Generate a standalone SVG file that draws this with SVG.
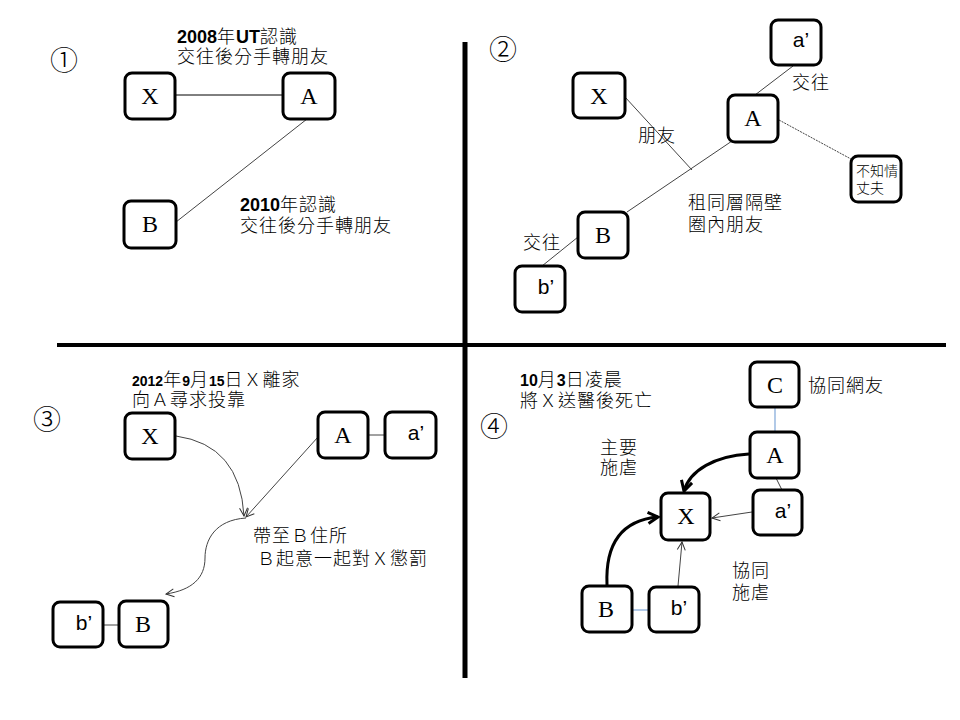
<svg xmlns="http://www.w3.org/2000/svg" width="960" height="720" viewBox="0 0 960 720">
<style>
.box{fill:#fff;stroke:#000;stroke-width:3}
.lt{font-family:"Liberation Serif",serif;font-size:24px;text-anchor:middle}
.ls{font-family:"Liberation Sans",sans-serif;font-size:21px;text-anchor:middle}
.cj{font-family:"Noto Sans CJK TC","Noto Sans CJK JP",sans-serif;font-size:18px;letter-spacing:1px;font-weight:300}
.bd{font-family:"Liberation Sans",sans-serif;font-weight:bold;letter-spacing:0}
.num{font-family:"Noto Sans CJK JP","Noto Sans CJK TC",serif;font-size:28px;text-anchor:middle;font-weight:300}
.sm{font-family:"Noto Sans CJK TC","Noto Sans CJK JP",sans-serif;font-size:14px;font-weight:300}
.ln{stroke:#444;stroke-width:1;fill:none}
.bl{stroke:#7ea6d8;stroke-width:1.2;fill:none}
.dv{stroke:#000;fill:none}
</style>
<defs>
<marker id="ah" viewBox="0 0 10 10" refX="9" refY="5" markerWidth="10" markerHeight="10" markerUnits="userSpaceOnUse" orient="auto">
<path d="M1,1 L9,5 L1,9" fill="none" stroke="#333" stroke-width="1"/>
</marker>
<marker id="ahk" viewBox="0 0 14 14" refX="12" refY="7" markerWidth="14" markerHeight="14" markerUnits="userSpaceOnUse" orient="auto">
<path d="M2,1.5 L12,7 L2,12.5" fill="none" stroke="#000" stroke-width="3" stroke-linejoin="miter"/>
</marker>
</defs>
<rect width="960" height="720" fill="#fff"/>
<g id="dividers">
<line class="dv" x1="465" y1="42" x2="465" y2="678" stroke-width="5"/>
<line class="dv" x1="57" y1="345" x2="946" y2="345" stroke-width="4"/>
</g>
<g id="connectors">
<line x1="175" y1="95" x2="283" y2="95" stroke="#000" stroke-width="1"/>
<line class="ln" x1="307" y1="119" x2="176" y2="222"/>
<line class="ln" x1="625" y1="97" x2="692" y2="170"/>
<line class="ln" x1="732" y1="141" x2="627" y2="212"/>
<line class="ln" x1="793" y1="66" x2="755" y2="95"/>
<line class="ln" x1="779" y1="120" x2="851" y2="159" stroke-dasharray="2,1"/>
<line class="ln" x1="578" y1="237" x2="542" y2="266"/>
<line class="ln" x1="368" y1="435" x2="385" y2="435"/>
<line class="ln" x1="103" y1="625" x2="119" y2="625"/>
<path class="ln" d="M176,436 Q240,445 244,516" marker-end="url(#ah)"/>
<line class="ln" x1="318" y1="437" x2="246" y2="517" marker-end="url(#ah)"/>
<path class="ln" d="M246,518 C215,520 205,540 205,558 C205,578 192,590 166,594" marker-end="url(#ah)"/>
<line class="bl" x1="775" y1="407" x2="775" y2="432"/>
<line class="ln" x1="776" y1="478" x2="782" y2="490"/>
<line class="bl" x1="632" y1="610" x2="649" y2="610"/>
<path d="M749,454 C715,456 690,470 684,491" fill="none" stroke="#000" stroke-width="3" marker-end="url(#ahk)"/>
<line class="ln" x1="752" y1="512" x2="712" y2="518" marker-end="url(#ah)"/>
<path d="M607,585 C605,540 625,520 658,517" fill="none" stroke="#000" stroke-width="3" marker-end="url(#ahk)"/>
<line class="ln" x1="678" y1="586" x2="682" y2="542" marker-end="url(#ah)"/>
</g>
<g id="q1-label"><text class="num" x="64" y="71">①</text></g>
<g id="q1-note1"><text class="cj"><tspan x="177" y="43"><tspan class="bd" font-size="18">2008</tspan>年<tspan class="bd" font-size="18">UT</tspan>認識</tspan><tspan x="177" y="63">交往後分手轉朋友</tspan></text></g>
<g id="q1-X"><rect class="box" x="125" y="73" width="50" height="46" rx="7"/><text class="lt" x="150" y="104">X</text></g>
<g id="q1-A"><rect class="box" x="283" y="73" width="52" height="46" rx="7"/><text class="lt" x="309" y="104">A</text></g>
<g id="q1-B"><rect class="box" x="124" y="201" width="52" height="47" rx="7"/><text class="lt" x="150" y="232">B</text></g>
<g id="q1-note2"><text class="cj"><tspan x="240" y="211"><tspan class="bd" font-size="18">2010</tspan>年認識</tspan><tspan x="240" y="232">交往後分手轉朋友</tspan></text></g>
<g id="q2-label"><text class="num" x="503" y="60">②</text></g>
<g id="q2-X"><rect class="box" x="573" y="73" width="52" height="45" rx="7"/><text class="lt" x="599" y="104">X</text></g>
<g id="q2-a"><rect class="box" x="771" y="20" width="50" height="45" rx="7"/><text class="ls" x="801" y="47">a’</text></g>
<g id="q2-A"><rect class="box" x="728" y="95" width="50" height="47" rx="7"/><text class="lt" x="753" y="126">A</text></g>
<g id="q2-H"><rect class="box" x="851" y="156" width="50" height="46" rx="7"/><text class="sm"><tspan x="856" y="176">不知情</tspan><tspan x="856" y="193">丈夫</tspan></text></g>
<g id="q2-B"><rect class="box" x="578" y="212" width="50" height="46" rx="7"/><text class="lt" x="603" y="243">B</text></g>
<g id="q2-b"><rect class="box" x="515" y="266" width="50" height="46" rx="7"/><text class="ls" x="546" y="294">b’</text></g>
<g id="q2-t1"><text class="cj" x="792" y="89">交往</text></g>
<g id="q2-t2"><text class="cj" x="638" y="142">朋友</text></g>
<g id="q2-t3"><text class="cj"><tspan x="688" y="209">租同層隔壁</tspan><tspan x="688" y="231">圈內朋友</tspan></text></g>
<g id="q2-t4"><text class="cj" x="523" y="249">交往</text></g>
<g id="q3-label"><text class="num" x="47" y="430">③</text></g>
<g id="q3-note1"><text class="cj"><tspan x="132" y="386"><tspan class="bd" font-size="14">2012</tspan>年<tspan class="bd" font-size="14">9</tspan>月<tspan class="bd" font-size="14">15</tspan>日Ｘ離家</tspan><tspan x="132" y="406">向Ａ尋求投靠</tspan></text></g>
<g id="q3-X"><rect class="box" x="125" y="413" width="50" height="46" rx="7"/><text class="lt" x="150" y="444">X</text></g>
<g id="q3-A"><rect class="box" x="318" y="412" width="50" height="46" rx="7"/><text class="lt" x="343" y="443">A</text></g>
<g id="q3-a"><rect class="box" x="385" y="412" width="51" height="46" rx="7"/><text class="ls" x="416" y="440">a’</text></g>
<g id="q3-note2"><text class="cj"><tspan x="253" y="542">帶至Ｂ住所</tspan><tspan x="257" y="565">Ｂ起意一起對Ｘ懲罰</tspan></text></g>
<g id="q3-b"><rect class="box" x="53" y="602" width="50" height="45" rx="7"/><text class="ls" x="84" y="630">b’</text></g>
<g id="q3-B"><rect class="box" x="119" y="601" width="49" height="46" rx="7"/><text class="lt" x="143" y="632">B</text></g>
<g id="q4-label"><text class="num" x="494" y="437">④</text></g>
<g id="q4-note1"><text class="cj"><tspan x="520" y="386"><tspan class="bd" font-size="16">10</tspan>月<tspan class="bd" font-size="16">3</tspan>日凌晨</tspan><tspan x="520" y="407">將Ｘ送醫後死亡</tspan></text></g>
<g id="q4-C"><rect class="box" x="750" y="362" width="49" height="45" rx="7"/><text class="lt" x="775" y="393">C</text></g>
<g id="q4-t1"><text class="cj" x="808" y="392">協同網友</text></g>
<g id="q4-A"><rect class="box" x="750" y="432" width="49" height="46" rx="7"/><text class="lt" x="775" y="463">A</text></g>
<g id="q4-a"><rect class="box" x="753" y="490" width="49" height="45" rx="7"/><text class="ls" x="783" y="518">a’</text></g>
<g id="q4-X"><rect class="box" x="661" y="493" width="49" height="47" rx="7"/><text class="lt" x="686" y="524">X</text></g>
<g id="q4-t2"><text class="cj"><tspan x="600" y="454">主要</tspan><tspan x="600" y="474">施虐</tspan></text></g>
<g id="q4-B"><rect class="box" x="582" y="586" width="50" height="46" rx="7"/><text class="lt" x="606" y="617">B</text></g>
<g id="q4-b"><rect class="box" x="649" y="587" width="50" height="45" rx="7"/><text class="ls" x="679" y="615">b’</text></g>
<g id="q4-t3"><text class="cj"><tspan x="732" y="577">協同</tspan><tspan x="732" y="599">施虐</tspan></text></g>
</svg>
